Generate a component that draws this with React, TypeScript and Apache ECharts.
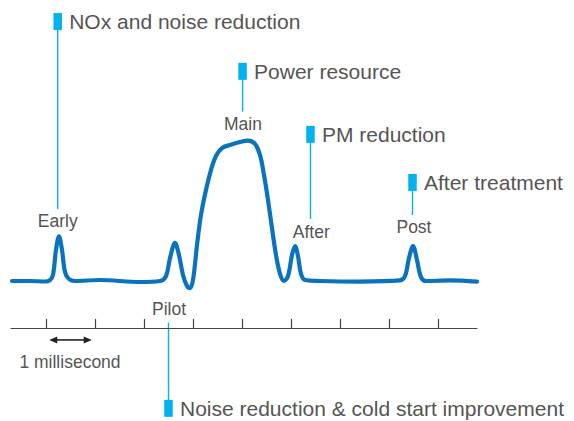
import React, { useEffect, useRef } from "react";
import * as echarts from "echarts";

// injection-rate trace (x in milliseconds, y in arbitrary rate units)
const xMs = [
  -0.694, -0.327, -0.02, 0.082, 0.143, 0.204, 0.265, 0.327, 0.388, 0.469, 0.592,
  1.102, 1.918, 2.327, 2.449, 2.531, 2.633, 2.714, 2.796, 2.878, 2.939, 3.0,
  3.082, 3.163, 3.265, 3.367, 3.469, 3.592, 3.755, 3.959, 4.122, 4.265, 4.367,
  4.449, 4.531, 4.612, 4.694, 4.776, 4.857, 4.939, 5.02, 5.082, 5.143, 5.204,
  5.286, 5.592, 6.408, 7.224, 7.327, 7.408, 7.49, 7.571, 7.653, 7.755, 8.245, 8.796,
];
const rate = [
  0, 0, -0.35, 0.7, 4.3, 22, 31.6, 22, 6.4, 1.4, 0,
  0.7, -0.7, 0, 3.5, 16.3, 27, 18.4, 4.3, -3.5, -5, 0.7,
  25.5, 46.8, 64.5, 78.7, 88.7, 94.3, 96.5, 98.6, 99.6, 97.2, 89.4,
  75.2, 57.4, 37.6, 18.4, 5, 0, 3.5, 18.4, 24.8, 17.7, 5,
  0.7, 0, -0.4, 0.4, 3.5, 16.3, 24.8, 14.9, 2.8, 0, 0.4, -0.4,
];
const tickMs = [0, 1, 2, 3, 4, 5, 6, 7, 8];

// pulse names
const pulseNames = ["Early", "Pilot", "Main", "After", "Post"];
const pulseLabelX = [0.241, 2.51, 4.02, 5.414, 7.51];
const pulseLabelY = [42.8, -19.9, 111.3, 35, 38.3];

// callouts
const calloutTexts = [
  "NOx and noise reduction",
  "Power resource",
  "PM reduction",
  "After treatment",
  "Noise reduction & cold start improvement",
];
const calloutX = [0.239, 4.012, 5.398, 7.48, 2.5];
const calloutMarkerY = [184, 148.7, 104, 69.9, -90.3];
const calloutLineEndY = [51.1, 120.1, 44, 46.8, -29.6];

// scale bar
const scaleBarX = [0.067, 0.933];
const scaleBarY = -41.8;
const scaleLabel = "1 millisecond";
const scaleLabelX = 0.49;
const scaleLabelY = -57.2;

const FONT = '"Liberation Sans", Arial, sans-serif';
const TEXT_COLOR = "#555555";
const CALLOUT_COLOR = "#00b2ee";

export default function App() {
  const ref = useRef<HTMLDivElement>(null);
  useEffect(() => {
    if (!ref.current) return;
    const chart = echarts.init(ref.current, null, { renderer: "svg" });
    chart.setOption({
      animation: false,
      backgroundColor: "#ffffff",
      grid: { left: 11, right: 97, top: 46, bottom: 93 },
      xAxis: {
        type: "value",
        min: -0.714,
        max: 8.796,
        splitLine: { show: false },
        axisLine: { show: true, onZero: false, lineStyle: { color: "#444", width: 1.2 } },
        axisTick: {
          show: true,
          inside: true,
          length: 9,
          customValues: tickMs,
          lineStyle: { color: "#444", width: 1.2 },
        },
        axisLabel: { show: false },
      },
      yAxis: {
        type: "value",
        min: -33.33,
        max: 166.67,
        show: false,
        splitLine: { show: false },
      },
      series: [
        {
          type: "line",
          data: xMs.map((x, i) => [x, rate[i]]),
          smooth: 0.35,
          symbol: "none",
          clip: false,
          lineStyle: { color: "#0a73bd", width: 4.2, cap: "round", join: "round" },
        },
      ],
    });

    const px = (x: number, y: number) =>
      chart.convertToPixel({ gridIndex: 0 }, [x, y]) as number[];

    const elements: any[] = [];
    pulseNames.forEach((name, i) => {
      const [x, y] = px(pulseLabelX[i], pulseLabelY[i]);
      elements.push({
        type: "text",
        x,
        y,
        style: {
          text: name,
          font: `17.5px ${FONT}`,
          fill: TEXT_COLOR,
          textAlign: "center",
          textVerticalAlign: "middle",
          align: "center",
          verticalAlign: "middle",
        },
      });
    });
    calloutTexts.forEach((t, i) => {
      const [cx, cy] = px(calloutX[i], calloutMarkerY[i]);
      const [, ey] = px(calloutX[i], calloutLineEndY[i]);
      elements.push({
        type: "line",
        shape: { x1: cx, y1: cy, x2: cx, y2: ey },
        style: { stroke: CALLOUT_COLOR, lineWidth: 1.4 },
      });
      elements.push({
        type: "rect",
        shape: { x: cx - 4.25, y: cy - 8.5, width: 8.5, height: 17 },
        style: { fill: CALLOUT_COLOR },
      });
      elements.push({
        type: "text",
        x: cx + 11.5,
        y: cy,
        style: {
          text: t,
          font: `21px ${FONT}`,
          fill: TEXT_COLOR,
          textAlign: "left",
          textVerticalAlign: "middle",
          align: "left",
          verticalAlign: "middle",
        },
      });
    });
    // scale bar
    const [ax1, ay] = px(scaleBarX[0], scaleBarY);
    const [ax2] = px(scaleBarX[1], scaleBarY);
    const head = 8;
    const hw = 3.5;
    elements.push({
      type: "line",
      shape: { x1: ax1 + head - 1, y1: ay, x2: ax2 - head + 1, y2: ay },
      style: { stroke: "#222", lineWidth: 1.6 },
    });
    elements.push({
      type: "polygon",
      shape: { points: [[ax1, ay], [ax1 + head, ay - hw], [ax1 + head, ay + hw]] },
      style: { fill: "#222" },
    });
    elements.push({
      type: "polygon",
      shape: { points: [[ax2, ay], [ax2 - head, ay - hw], [ax2 - head, ay + hw]] },
      style: { fill: "#222" },
    });
    const [lx, ly] = px(scaleLabelX, scaleLabelY);
    elements.push({
      type: "text",
      x: lx,
      y: ly,
      style: {
        text: scaleLabel,
        font: `17.5px ${FONT}`,
        fill: TEXT_COLOR,
        textAlign: "center",
        textVerticalAlign: "middle",
        align: "center",
        verticalAlign: "middle",
      },
    });
    chart.setOption({ graphic: { elements } });

    return () => chart.dispose();
  }, []);
  return (
    <div
      ref={ref}
      style={{ position: "fixed", left: 0, top: 0, width: 574, height: 421 }}
    />
  );
}
